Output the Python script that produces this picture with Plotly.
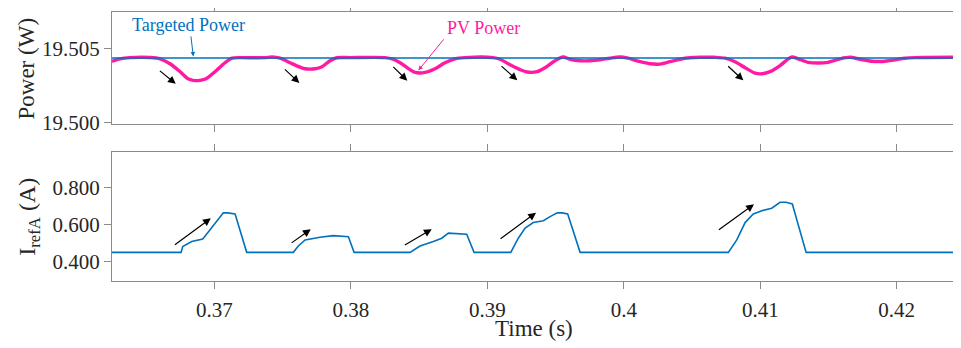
import plotly.graph_objects as go

# ---------------- data ----------------
x_range = [0.3625, 0.42427]

pv_time = [0.36250, 0.36309, 0.36382, 0.36529, 0.36602, 0.36675, 0.36749, 0.36807, 0.36844, 0.36895,
           0.36939, 0.37005, 0.37078, 0.37130, 0.37188, 0.37298, 0.37371, 0.37423, 0.37481, 0.37555,
           0.37628, 0.37665, 0.37738, 0.37789, 0.37848, 0.37899, 0.37994, 0.38251, 0.38309, 0.38361,
           0.38434, 0.38471, 0.38544, 0.38617, 0.38690, 0.38764, 0.38837, 0.39042, 0.39093, 0.39167,
           0.39240, 0.39291, 0.39364, 0.39423, 0.39496, 0.39555, 0.39606, 0.39680, 0.39753, 0.39826,
           0.39899, 0.39973, 0.40031, 0.40119, 0.40192, 0.40266, 0.40339, 0.40412, 0.40486, 0.40559,
           0.40669, 0.40742, 0.40815, 0.40889, 0.40962, 0.41013, 0.41072, 0.41145, 0.41196, 0.41233,
           0.41277, 0.41350, 0.41423, 0.41497, 0.41585, 0.41658, 0.41731, 0.41819, 0.41900, 0.41988,
           0.42061, 0.42134, 0.42427]
pv_power = [19.50415, 19.50432, 19.50440, 19.50441, 19.50432, 19.50398, 19.50344, 19.50296, 19.50285, 19.50285,
            19.50296, 19.50344, 19.50405, 19.50436, 19.50440, 19.50439, 19.50440, 19.50444, 19.50436, 19.50405,
            19.50375, 19.50364, 19.50364, 19.50378, 19.50419, 19.50439, 19.50440, 19.50440, 19.50429, 19.50405,
            19.50358, 19.50339, 19.50339, 19.50364, 19.50405, 19.50432, 19.50440, 19.50440, 19.50429, 19.50391,
            19.50358, 19.50342, 19.50344, 19.50371, 19.50419, 19.50444, 19.50429, 19.50419, 19.50419, 19.50425,
            19.50436, 19.50444, 19.50436, 19.50412, 19.50398, 19.50396, 19.50412, 19.50429, 19.50439, 19.50442,
            19.50442, 19.50436, 19.50412, 19.50371, 19.50334, 19.50330, 19.50344, 19.50385, 19.50425, 19.50444,
            19.50432, 19.50408, 19.50403, 19.50408, 19.50432, 19.50442, 19.50429, 19.50415, 19.50414, 19.50425,
            19.50436, 19.50440, 19.50442]

target_time = [0.3625, 0.42427]
target_power = [19.50437, 19.50437]

iref_time = [0.36250, 0.36756, 0.36768, 0.36834, 0.36915, 0.36993, 0.37066, 0.37098, 0.37152, 0.37237,
             0.37579, 0.37615, 0.37665, 0.37774, 0.37872, 0.37982, 0.38024,
             0.38434, 0.38507, 0.38605, 0.38666, 0.38715, 0.38764, 0.38849, 0.38903,
             0.39172, 0.39227, 0.39277, 0.39337, 0.39411, 0.39460, 0.39513, 0.39548, 0.39589, 0.39680,
             0.40766, 0.40828, 0.40889, 0.40949, 0.41011, 0.41084, 0.41145, 0.41189, 0.41235, 0.41336,
             0.42427]
iref_current = [0.450, 0.450, 0.481, 0.508, 0.522, 0.592, 0.663, 0.662, 0.656, 0.450,
                0.450, 0.484, 0.517, 0.531, 0.540, 0.534, 0.450,
                0.450, 0.484, 0.508, 0.526, 0.553, 0.552, 0.547, 0.450,
                0.450, 0.526, 0.580, 0.610, 0.620, 0.642, 0.663, 0.662, 0.656, 0.450,
                0.450, 0.517, 0.610, 0.656, 0.674, 0.687, 0.719, 0.719, 0.710, 0.450,
                0.450]

x_tickvals = [0.37, 0.38, 0.39, 0.40, 0.41, 0.42]
x_ticktext = ["0.37", "0.38", "0.39", "0.4", "0.41", "0.42"]
p_tickvals = [19.500, 19.505]
p_ticktext = ["19.500", "19.505"]
i_tickvals = [0.4, 0.6, 0.8]
i_ticktext = ["0.400", "0.600", "0.800"]

# trend arrows (tail -> head), data coordinates
top_arrows = [((0.36590, 19.50358), (0.36717, 19.50261)),
              ((0.37506, 19.50369), (0.37623, 19.50267)),
              ((0.38300, 19.50387), (0.38414, 19.50283)),
              ((0.39093, 19.50391), (0.39220, 19.50285)),
              ((0.40754, 19.50391), (0.40876, 19.50285))]
bot_arrows = [((0.36700, 0.4844), (0.36974, 0.6333)),
              ((0.37555, 0.4952), (0.37706, 0.5742)),
              ((0.38385, 0.4844), (0.38593, 0.5742)),
              ((0.39086, 0.5167), (0.39357, 0.6634)),
              ((0.40686, 0.5650), (0.40954, 0.7086))]

# ---------------- style ----------------
FONT = "Liberation Serif, Times New Roman, serif"
BLUE = "#0072BD"
PINK = "#FF1AA3"
AXC = "#8A8A8A"
TXT = "#262626"

fig = go.Figure()
fig.add_trace(go.Scatter(x=pv_time, y=pv_power, mode="lines", line=dict(color=PINK, width=3.4, shape="spline", smoothing=0.8),
                         xaxis="x", yaxis="y", showlegend=False))
fig.add_trace(go.Scatter(x=target_time, y=target_power, mode="lines", line=dict(color=BLUE, width=1.6),
                         xaxis="x", yaxis="y", showlegend=False))
fig.add_trace(go.Scatter(x=iref_time, y=iref_current, mode="lines", line=dict(color=BLUE, width=1.6),
                         xaxis="x2", yaxis="y2", showlegend=False))

common_axis = dict(showline=True, linecolor=AXC, linewidth=1, mirror="ticks", ticks="outside",
                   ticklen=7, tickcolor=AXC, tickwidth=1, showgrid=False, zeroline=False, automargin=False,
                   tickfont=dict(family=FONT, size=21, color=TXT))

# the page body adds an 8 px offset, so the figure is 8 px smaller than the window
fig.update_layout(
    template="none",
    width=953, height=340,
    margin=dict(l=104, r=6, t=4, b=67, pad=0, autoexpand=False),
    paper_bgcolor="white", plot_bgcolor="white",
    font=dict(family=FONT, color=TXT),
    xaxis=dict(domain=[0, 1], range=x_range, anchor="y", tickvals=x_tickvals, showticklabels=False, **common_axis),
    yaxis=dict(domain=[0.5818, 1], range=[19.49984, 19.50751], anchor="x", tickvals=p_tickvals, ticktext=p_ticktext,
               **common_axis),
    xaxis2=dict(domain=[0, 1], range=x_range, anchor="y2", tickvals=x_tickvals, ticktext=x_ticktext,
                ticklabelstandoff=3, **common_axis),
    yaxis2=dict(domain=[0, 0.4807], range=[0.296, 0.991], anchor="x2", tickvals=i_tickvals, ticktext=i_ticktext,
                **common_axis),
)

ann = []
for (tx, ty), (hx, hy) in top_arrows:
    ann.append(dict(x=hx, y=hy, ax=tx, ay=ty, xref="x", yref="y", axref="x", ayref="y", text="",
                    showarrow=True, arrowhead=2, arrowsize=1.3, arrowwidth=1.2, arrowcolor="black",
                    standoff=0, startstandoff=0))
for (tx, ty), (hx, hy) in bot_arrows:
    ann.append(dict(x=hx, y=hy, ax=tx, ay=ty, xref="x2", yref="y2", axref="x2", ayref="y2", text="",
                    showarrow=True, arrowhead=2, arrowsize=1.3, arrowwidth=1.2, arrowcolor="black",
                    standoff=0, startstandoff=0))

# labels with pointer arrows
ann.append(dict(x=0.36807, y=19.50665, xref="x", yref="y", text="Targeted Power", showarrow=False,
                font=dict(family=FONT, size=18, color=BLUE), xanchor="center", yanchor="middle"))
ann.append(dict(x=0.36846, y=19.50448, ax=0.36827, ay=19.50595, xref="x", yref="y", axref="x", ayref="y", text="",
                showarrow=True, arrowhead=2, arrowsize=0.9, arrowwidth=1, arrowcolor=BLUE, standoff=0, startstandoff=0))
ann.append(dict(x=0.38969, y=19.50640, xref="x", yref="y", text="PV Power", showarrow=False,
                font=dict(family=FONT, size=18, color=PINK), xanchor="center", yanchor="middle"))
ann.append(dict(x=0.38495, y=19.50353, ax=0.38690, ay=19.50575, xref="x", yref="y", axref="x", ayref="y", text="",
                showarrow=True, arrowhead=2, arrowsize=0.9, arrowwidth=1, arrowcolor=PINK, standoff=0, startstandoff=0))

# axis titles
ann.append(dict(x=-0.102, y=0.79, xref="paper", yref="paper", text="Power (W)", textangle=-90, showarrow=False,
                font=dict(family=FONT, size=23, color=TXT), xanchor="center", yanchor="middle"))
ann.append(dict(x=-0.098, y=0.24, xref="paper", yref="paper", text="I<sub>refA</sub> (A)", textangle=-90,
                showarrow=False, font=dict(family=FONT, size=24, color=TXT), xanchor="center", yanchor="middle"))
ann.append(dict(x=0.5, y=-0.175, xref="paper", yref="paper", text="Time (s)", showarrow=False,
                font=dict(family=FONT, size=23, color=TXT), xanchor="center", yanchor="middle"))

fig.update_layout(annotations=ann)
fig.write_html("out.html")
